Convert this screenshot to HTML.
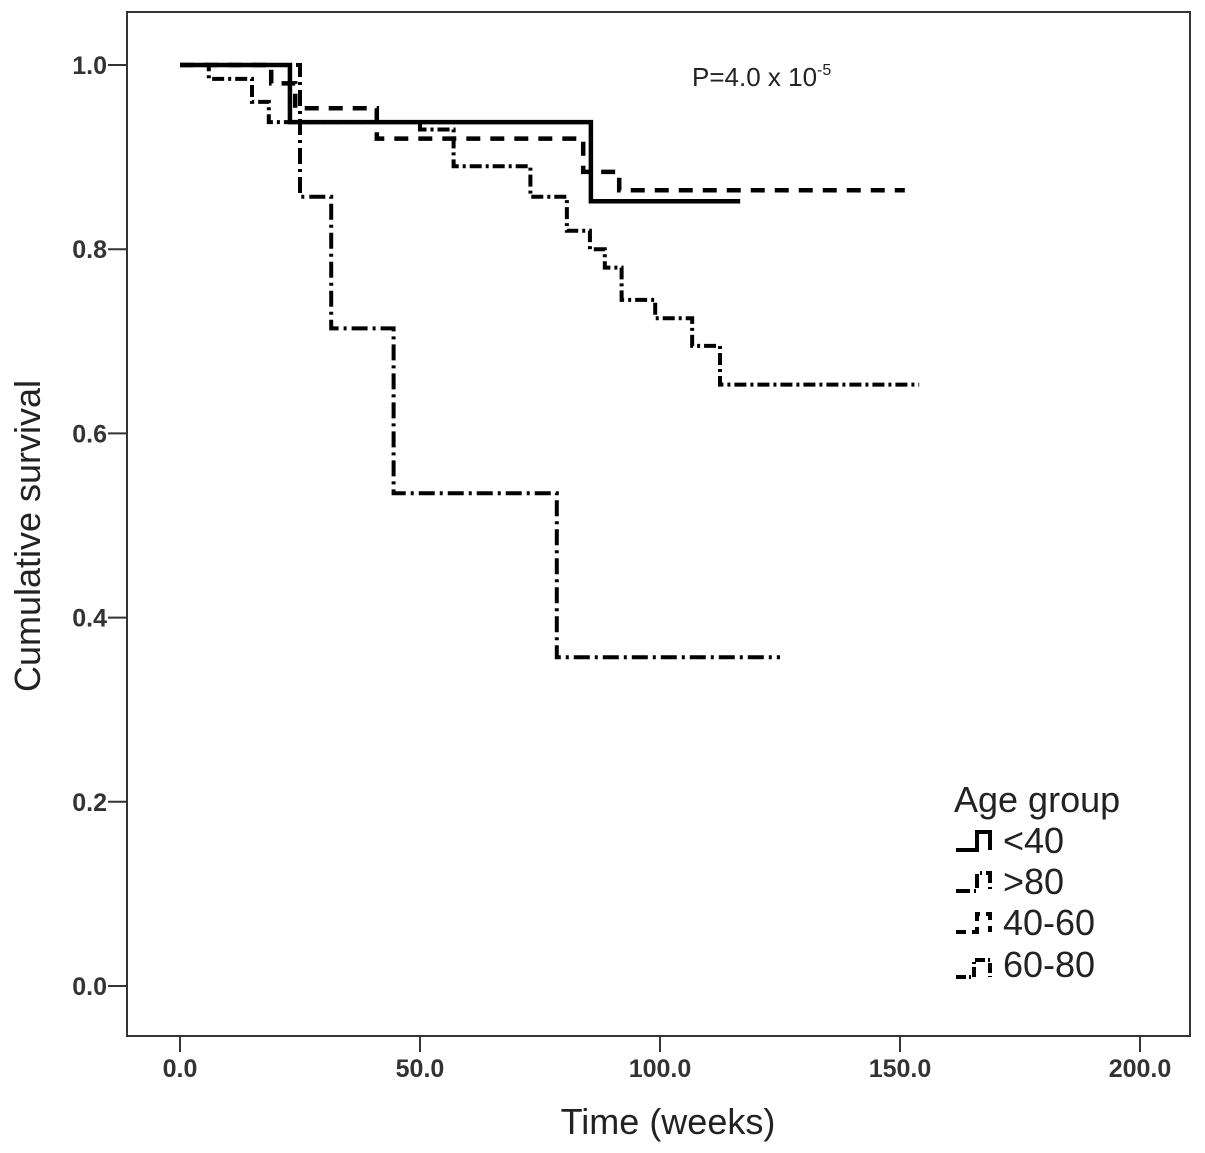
<!DOCTYPE html>
<html><head><meta charset="utf-8"><style>
html,body{margin:0;padding:0;background:#fff;}
svg{display:block;font-family:"Liberation Sans",Arial,sans-serif;}
</style></head><body>
<svg id="chart" width="1205" height="1153" viewBox="0 0 1205 1153">
<rect x="127" y="12" width="1063" height="1024" fill="none" stroke="#333" stroke-width="2"/>
<g id="axes"></g>
<g id="series"></g>
<text x="692" y="86" font-size="26" fill="#222">P=4.0 x 10<tspan dy="-11" font-size="16">-5</tspan></text>
<text x="668" y="1134" font-size="36" text-anchor="middle" fill="#222">Time (weeks)</text>
<text transform="translate(40,536) rotate(-90)" font-size="36" text-anchor="middle" fill="#222">Cumulative survival</text>
<g>
<text x="954" y="812" font-size="36" fill="#222">Age group</text>
<g><path d="M956 850 H977 V832 H990 V850" fill="none" stroke="#000" stroke-width="4"/><text x="1003" y="853" font-size="36" fill="#222">&lt;40</text></g>
<g><path d="M956 891 H977 V873 H990 V891" fill="none" stroke="#000" stroke-width="4" stroke-dasharray="14,4,2,4"/><text x="1003" y="894" font-size="36" fill="#222">&gt;80</text></g>
<g><path d="M956 932 H977 V914 H990 V932" fill="none" stroke="#000" stroke-width="4" stroke-dasharray="10,6"/><text x="1003" y="935" font-size="36" fill="#222">40-60</text></g>
<g><path d="M956 977 H974 V960 H990 V977" fill="none" stroke="#000" stroke-width="4" stroke-dasharray="10,3,2,3"/><text x="1003" y="977" font-size="36" fill="#222">60-80</text></g>
</g>
</svg>
<script>
const xTicks = [0, 50, 100, 150, 200];
const xTickLabels = ["0.0", "50.0", "100.0", "150.0", "200.0"];
const yTicks = [0, 0.2, 0.4, 0.6, 0.8, 1.0];
const yTickLabels = ["0.0", "0.2", "0.4", "0.6", "0.8", "1.0"];
const seriesNames = ["lt40", "gt80", "40-60", "60-80"];
const lt40Times = [0, 22.9, 85.6, 116.7];
const lt40Surv = [1.0, 0.938, 0.852, 0.852];
const gt80Times = [0, 25, 31.5, 44.5, 78.5, 125];
const gt80Surv = [1.0, 0.857, 0.714, 0.535, 0.357, 0.357];
const g4060Times = [0, 19, 24, 41, 84, 91.5, 151];
const g4060Surv = [1.0, 0.98, 0.953, 0.92, 0.884, 0.864, 0.864];
const g6080Times = [0, 6, 15, 18.5, 50, 57, 73, 80.6, 85.4, 88.5, 92, 99, 106.7, 112.5, 154];
const g6080Surv = [1.0, 0.985, 0.96, 0.938, 0.93, 0.89, 0.857, 0.82, 0.8, 0.78, 0.745, 0.725, 0.695, 0.653, 0.653];

const X = t => 180 + t * 4.8;
const Y = s => 986 - s * 921;
const NS = "http://www.w3.org/2000/svg";
const axes = document.getElementById("axes");
const seriesG = document.getElementById("series");

xTicks.forEach((t, i) => {
  const l = document.createElementNS(NS, "line");
  l.setAttribute("x1", X(t)); l.setAttribute("x2", X(t));
  l.setAttribute("y1", 1036); l.setAttribute("y2", 1052);
  l.setAttribute("stroke", "#333"); l.setAttribute("stroke-width", "2");
  
  
  axes.appendChild(l);
  const tx = document.createElementNS(NS, "text");
  tx.setAttribute("x", X(t)); tx.setAttribute("y", 1077);
  tx.setAttribute("text-anchor", "middle"); tx.setAttribute("font-size", "25");
  tx.setAttribute("font-weight", "bold"); tx.setAttribute("fill", "#333");
  tx.textContent = xTickLabels[i];
  
  
  axes.appendChild(tx);
});
yTicks.forEach((v, i) => {
  const l = document.createElementNS(NS, "line");
  l.setAttribute("x1", 108); l.setAttribute("x2", 127);
  l.setAttribute("y1", Y(v)); l.setAttribute("y2", Y(v));
  l.setAttribute("stroke", "#333"); l.setAttribute("stroke-width", "2");
  
  
  axes.appendChild(l);
  const tx = document.createElementNS(NS, "text");
  tx.setAttribute("x", 107); tx.setAttribute("y", Y(v) + 9);
  tx.setAttribute("text-anchor", "end"); tx.setAttribute("font-size", "25");
  tx.setAttribute("font-weight", "bold"); tx.setAttribute("fill", "#333");
  tx.textContent = yTickLabels[i];
  
  
  axes.appendChild(tx);
});

function stepPath(times, surv) {
  let d = "M" + X(times[0]) + " " + Y(surv[0]);
  for (let i = 1; i < times.length; i++) {
    d += " H" + X(times[i]) + " V" + Y(surv[i]);
  }
  return d;
}
const defs = [
  [lt40Times, lt40Surv, "4.5", "none", "curve-lt40"],
  [g4060Times, g4060Surv, "4.5", "14,10", "curve-40-60"],
  [g6080Times, g6080Surv, "4", "12,4,3,4", "curve-60-80"],
  [gt80Times, gt80Surv, "4", "16,5,3,5", "curve-gt80"]
];
defs.forEach(d => {
  const p = document.createElementNS(NS, "path");
  p.setAttribute("d", stepPath(d[0], d[1]));
  p.setAttribute("fill", "none"); p.setAttribute("stroke", "#000");
  p.setAttribute("stroke-width", d[2]);
  if (d[3] !== "none") p.setAttribute("stroke-dasharray", d[3]);
  
  
  seriesG.appendChild(p);
});
</script>
</body></html>
